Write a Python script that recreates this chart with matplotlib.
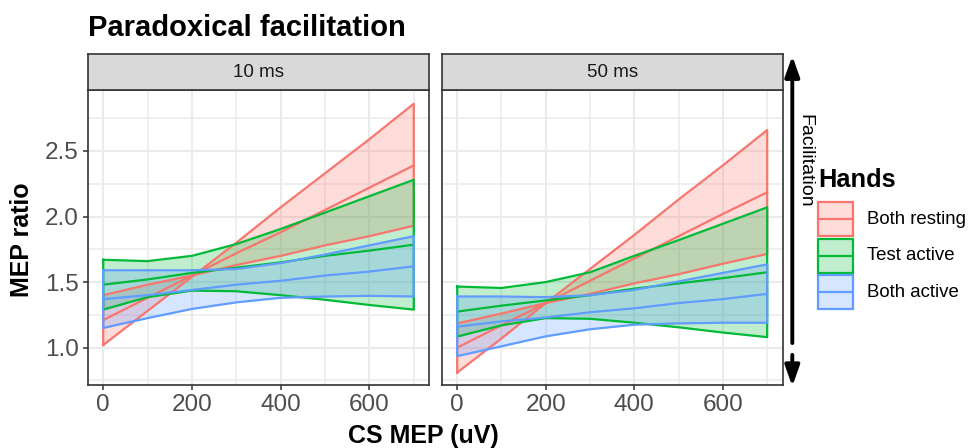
import numpy as np
import matplotlib.pyplot as plt
from matplotlib.transforms import Affine2D
from matplotlib.patches import Rectangle
from matplotlib.lines import Line2D

plt.rcParams['font.family'] = ['Liberation Sans', 'DejaVu Sans']

# x positions (CS MEP, uV)
cs_mep = [0, 100, 200, 300, 400, 500, 600, 700]
facets = ['10 ms', '50 ms']
hands = ['Both resting', 'Test active', 'Both active']
colours = ['#F8766D', '#00BA38', '#619CFF']

# 10 ms : the two ribbon edges and the fitted line for each hand state
rest10_a = [1.02, 1.28, 1.54, 1.80, 2.07, 2.33, 2.59, 2.86]
rest10_b = [1.40, 1.48, 1.55, 1.63, 1.70, 1.78, 1.85, 1.93]
rest10_fit = [1.21, 1.38, 1.55, 1.72, 1.88, 2.05, 2.22, 2.39]
test10_a = [1.67, 1.66, 1.70, 1.79, 1.905, 2.03, 2.155, 2.28]
test10_b = [1.29, 1.385, 1.435, 1.43, 1.40, 1.365, 1.325, 1.29]
test10_fit = [1.48, 1.52, 1.57, 1.61, 1.65, 1.70, 1.74, 1.785]
both10_a = [1.59, 1.59, 1.59, 1.60, 1.645, 1.71, 1.78, 1.85]
both10_b = [1.15, 1.225, 1.295, 1.345, 1.38, 1.39, 1.395, 1.39]
both10_fit = [1.37, 1.40, 1.44, 1.48, 1.51, 1.55, 1.58, 1.62]

# 50 ms
rest50_a = [0.81, 1.07, 1.34, 1.60, 1.86, 2.13, 2.39, 2.66]
rest50_b = [1.185, 1.26, 1.34, 1.41, 1.49, 1.56, 1.64, 1.715]
rest50_fit = [1.00, 1.17, 1.34, 1.51, 1.68, 1.85, 2.02, 2.185]
test50_a = [1.466, 1.455, 1.50, 1.575, 1.70, 1.82, 1.945, 2.07]
test50_b = [1.084, 1.17, 1.225, 1.22, 1.19, 1.155, 1.115, 1.08]
test50_fit = [1.275, 1.32, 1.36, 1.40, 1.45, 1.49, 1.53, 1.575]
both50_a = [1.39, 1.39, 1.385, 1.40, 1.44, 1.505, 1.57, 1.635]
both50_b = [0.935, 1.01, 1.086, 1.14, 1.175, 1.185, 1.19, 1.19]
both50_fit = [1.16, 1.20, 1.23, 1.27, 1.30, 1.34, 1.37, 1.41]

panels = [
    [(rest10_a, rest10_b, rest10_fit), (test10_a, test10_b, test10_fit), (both10_a, both10_b, both10_fit)],
    [(rest50_a, rest50_b, rest50_fit), (test50_a, test50_b, test50_fit), (both50_a, both50_b, both50_fit)],
]

W, H = 968, 448
fig = plt.figure(figsize=(W / 100, H / 100), dpi=100)
# pixel coordinates measured from the top-left corner
pix = Affine2D().scale(1 / W, -1 / H).translate(0, 1) + fig.transFigure

border = '#333333'
panel_top, panel_bot = 90, 385
lefts = [(87.7, 429.3), (441.7, 782.7)]
lw = 1.6

axes = []
for i, (x0, x1) in enumerate(lefts):
    ax = fig.add_axes([x0 / W, (H - panel_bot) / H, (x1 - x0) / W, (panel_bot - panel_top) / H])
    x = np.array(cs_mep)
    for (a, b, fit), col in zip(panels[i], colours):
        a = np.array(a)
        b = np.array(b)
        ax.fill_between(x, a, b, color=col, alpha=0.25, lw=0)
        ax.plot(np.r_[x, x[::-1], x[0]], np.r_[a, b[::-1], a[0]], color=col, lw=lw)
        ax.plot(x, fit, color=col, lw=lw)
    ax.set_xlim(-35, 735)
    ax.set_ylim(0.715, 2.965)
    ax.set_xticks([0, 200, 400, 600])
    ax.set_xticks([100, 300, 500, 700], minor=True)
    ax.set_yticks([1.0, 1.5, 2.0, 2.5])
    ax.set_yticks([0.75, 1.25, 1.75, 2.25, 2.75], minor=True)
    ax.grid(which='major', color='#EBEBEB', lw=1.45)
    ax.grid(which='minor', color='#EBEBEB', lw=1.1)
    ax.set_axisbelow(True)
    ax.tick_params(which='major', length=3.8, width=1.1, color=border,
                   labelcolor='#4D4D4D', labelsize=17.5, pad=2.5)
    ax.tick_params(which='minor', length=0)
    if i == 1:
        ax.tick_params(axis='y', which='major', left=False, labelleft=False)
    else:
        ax.set_yticklabels(['1.0', '1.5', '2.0', '2.5'])
    for sp in ax.spines.values():
        sp.set_color(border)
        sp.set_linewidth(1.2)
    axes.append(ax)

    # facet strip
    st = fig.add_axes([x0 / W, (H - panel_top) / H, (x1 - x0) / W, (panel_top - 54.3) / H])
    st.set_facecolor('#D9D9D9')
    st.set_xticks([])
    st.set_yticks([])
    for sp in st.spines.values():
        sp.set_color(border)
        sp.set_linewidth(1.2)
    st.text(0.5, 0.5, facets[i], ha='center', va='center', fontsize=13.5,
            color='#1A1A1A', transform=st.transAxes)

# titles
fig.text(88, 36, 'Paradoxical facilitation', transform=pix, fontsize=21,
         fontweight='bold', va='baseline', ha='left')
fig.text(423, 443, 'CS MEP (uV)', transform=pix, fontsize=18,
         fontweight='bold', va='baseline', ha='center')
fig.text(22, 240, 'MEP ratio', transform=pix, fontsize=18,
         fontweight='bold', va='center', ha='center', rotation=90)

# facilitation arrows beside the right panel
axr = axes[1]
arrow_x = (792.3 - 441.7) / (782.7 - 441.7)
for y0, y1 in [(1.035, 3.225), (0.945, 0.705)]:
    axr.annotate('', xy=(arrow_x, y1), xytext=(arrow_x, y0),
                 xycoords=('axes fraction', 'data'), textcoords=('axes fraction', 'data'),
                 annotation_clip=False,
                 arrowprops=dict(arrowstyle='-|>,head_length=0.62,head_width=0.22',
                                 mutation_scale=20, lw=2.8, color='black',
                                 shrinkA=0, shrinkB=0))
fig.text(805, 161, 'Facilitation', transform=pix, fontsize=14, rotation=270,
         ha='center', va='center')

# legend
fig.text(818, 186.7, 'Hands', transform=pix, fontsize=18.3, fontweight='bold',
         va='baseline', ha='left')
key_tops = [202.3, 239, 275.4]
for top, col, lab in zip(key_tops, colours, hands):
    fig.patches.append(Rectangle((818.3, top), 35, 34, transform=pix,
                                 facecolor=col, alpha=0.25, lw=0))
    fig.patches.append(Rectangle((818.3, top), 35, 34, transform=pix,
                                 facecolor='none', edgecolor=col, lw=lw))
    fig.lines.append(Line2D([819.5, 852], [top + 17, top + 17], transform=pix,
                            color=col, lw=lw))
    fig.text(867.3, top + 17, lab, transform=pix, fontsize=13.4, va='center', ha='left')

fig.savefig('out.png', dpi=100)
